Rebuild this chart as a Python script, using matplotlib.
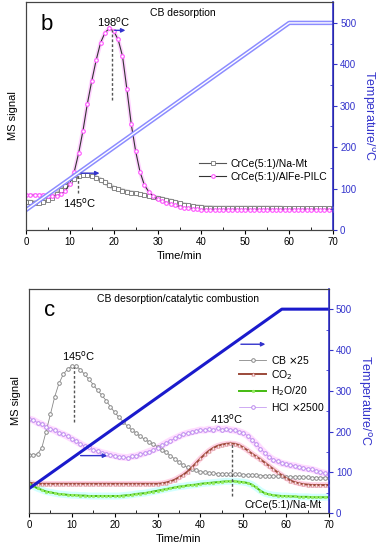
import matplotlib
matplotlib.use("Agg")
import matplotlib.pyplot as plt
import numpy as np
from matplotlib.ticker import MultipleLocator, NullFormatter

plt.rcParams["font.family"] = ["Liberation Sans", "DejaVu Sans"]
plt.rcParams["font.size"] = 7.5

BLUE = "#3333cc"

# ---- data (MS signal in arbitrary units) ----
time_min = np.arange(0, 71)

# panel b
na_mt_b = [68, 67, 66, 66, 68, 72, 78, 86, 96, 107, 116, 124, 130, 132, 132, 130, 126, 121,
           115, 108, 101, 98, 95, 92, 90, 88, 86, 84, 81, 79, 77, 75, 72, 70, 67, 64, 61, 59,
           57, 56, 55, 54, 54, 53, 53, 53, 53, 53, 53, 53, 53, 53, 53, 53, 53, 53, 53, 53,
           53, 52, 52, 52, 52, 52, 52, 52, 52, 52, 52, 52, 52]
alfe_pilc_b = [84, 84, 84, 84, 84, 83, 82, 83, 86, 95, 112, 140, 185, 240, 305, 360, 410,
               452, 476, 487, 480, 460, 420, 340, 255, 190, 140, 108, 92, 82, 74, 70, 66, 62,
               59, 56, 54, 52, 51, 50, 49, 49, 49, 49, 49, 49, 49, 49, 49, 49, 49, 49, 49, 49,
               49, 49, 49, 49, 49, 49, 49, 49, 49, 49, 49, 49, 49, 49, 49, 49, 49]
temp_t_b = [0, 60, 70]
temp_b = [48, 500, 500]

# panel c
cb_c = [143, 143, 145, 160, 200, 242, 285, 318, 340, 353, 360, 360, 352, 340, 328, 315, 301,
        289, 276, 261, 247, 235, 224, 213, 204, 196, 188, 181, 175, 169, 163, 156, 149, 141,
        133, 125, 117, 112, 108, 105, 102, 100, 99, 98, 97, 97, 96, 96, 95, 95, 94, 94, 93,
        93, 92, 92, 91, 91, 90, 90, 89, 89, 89, 88, 88, 88, 87, 87, 87, 87, 87]
co2_c = [75, 73, 72, 72, 72, 72, 72, 72, 72, 72, 72, 72, 72, 72, 72, 72, 72, 72, 72, 72, 72,
         72, 72, 72, 72, 72, 72, 72, 72, 72, 72, 73, 75, 78, 82, 88, 94, 102, 112, 123, 134,
         144, 153, 160, 165, 168, 170, 171, 170, 167, 161, 154, 146, 139, 132, 124, 116, 108,
         100, 93, 86, 80, 76, 73, 71, 70, 69, 69, 69, 69, 69]
h2o_c = [72, 66, 61, 57, 53, 51, 49, 47, 46, 45, 44, 44, 43, 43, 42, 42, 42, 42, 42, 42, 42,
         42, 43, 44, 45, 47, 48, 49, 51, 53, 55, 57, 59, 61, 63, 65, 66, 68, 69, 70, 72, 73,
         74, 75, 76, 77, 78, 78, 78, 77, 76, 74, 70, 63, 55, 49, 46, 44, 43, 42, 42, 41, 41,
         40, 40, 40, 39, 39, 39, 39, 39]
hcl_c = [231, 228, 222, 218, 212, 206, 203, 197, 193, 188, 182, 176, 170, 164, 161, 155, 152,
         148, 146, 143, 141, 138, 137, 136, 139, 140, 144, 147, 151, 155, 160, 166, 172, 178,
         183, 188, 193, 196, 199, 201, 204, 203, 206, 204, 208, 205, 207, 204, 203, 200, 196,
         190, 180, 170, 158, 148, 138, 131, 127, 122, 120, 117, 116, 113, 110, 109, 107, 104,
         100, 98, 95]
temp_t_c = [0, 59, 70]
temp_c = [60, 500, 500]


def style_axes(ax, ax2):
    ax.set_xlim(0, 70)
    ax.set_ylim(0, 550)
    ax2.set_ylim(0, 550)
    ax.set_yticks([])
    ax.xaxis.set_major_locator(MultipleLocator(10))
    ax.xaxis.set_minor_locator(MultipleLocator(5))
    ax.tick_params(axis="x", which="major", direction="out", length=3, labelsize=7, pad=2)
    ax.tick_params(axis="x", which="minor", direction="in", length=2)
    ax.set_xlabel("Time/min", labelpad=3, fontsize=8)
    ax.set_ylabel("MS signal", labelpad=6, fontsize=8)
    ax2.yaxis.set_major_locator(MultipleLocator(100))
    ax2.yaxis.set_minor_locator(MultipleLocator(50))
    ax2.yaxis.set_minor_formatter(NullFormatter())
    ax2.tick_params(axis="y", which="major", direction="out", length=3, colors=BLUE,
                    labelsize=7, pad=2)
    ax2.tick_params(axis="y", which="minor", direction="in", length=2, colors=BLUE)
    ax2.spines["right"].set_color(BLUE)
    ax2.spines["right"].set_linewidth(1.2)
    ax2.set_ylabel("Temperature/$^{\\rm o}$C", color=BLUE, rotation=270, va="bottom",
                   labelpad=3, fontsize=9)
    for a in (ax, ax2):
        for s in ("left", "top", "bottom"):
            a.spines[s].set_color("#444444")


def arrow(ax, x0, x1, y):
    ax.annotate("", xy=(x1, y), xytext=(x0, y),
                arrowprops=dict(arrowstyle="-|>", color=BLUE, lw=1, mutation_scale=6))


fig = plt.figure(figsize=(3.76, 5.5), dpi=100)

# ---------------- panel b ----------------
axb = fig.add_axes([0.069, 0.582, 0.817, 0.414])
axb2 = axb.twinx()
style_axes(axb, axb2)

axb2.plot(temp_t_b, temp_b, color="#8c8cff", lw=3.2, zorder=1)
axb2.plot(temp_t_b, temp_b, color="white", lw=1.0, zorder=1)

axb.plot(time_min, na_mt_b, color="#b0b0b0", lw=3.5, alpha=0.6, zorder=2)
axb.plot(time_min, na_mt_b, color="#555555", lw=0.8, marker="s", ms=2.6, mfc="white",
         mec="#777777", mew=0.6, label="CrCe(5:1)/Na-Mt", zorder=3)
axb.plot(time_min, alfe_pilc_b, color="#ffb3ff", lw=3, alpha=0.6, zorder=2)
axb.plot(time_min, alfe_pilc_b, color="#333333", lw=0.8, marker="o", ms=2.6, mfc="white",
         mec="#ff55ff", mew=0.8, label="CrCe(5:1)/AlFe-PILC", zorder=3)

axb2.plot([19.5, 19.5], [313, 483], color="#555555", lw=1, ls=(0, (2, 1.5)))
axb2.plot([11.8, 11.8], [88, 136], color="#555555", lw=1, ls=(0, (2, 1.5)))
arrow(axb2, 19.6, 23.3, 482)
arrow(axb2, 11.9, 17.4, 137)
axb2.text(19.9, 502, "198$^{\\rm o}$C", ha="center", va="center", fontsize=8)
axb2.text(12.3, 64, "145$^{\\rm o}$C", ha="center", va="center", fontsize=8)
axb2.text(4.8, 497, "b", ha="center", va="center", fontsize=16)
axb2.text(35.8, 523, "CB desorption", ha="center", va="center", fontsize=7.5)
axb.legend(loc="upper left", bbox_to_anchor=(0.55, 0.33), frameon=False, fontsize=7.5,
           handlelength=2.6, labelspacing=0.3, handletextpad=0.4, borderaxespad=0)

# ---------------- panel c ----------------
axc = fig.add_axes([0.077, 0.067, 0.798, 0.408])
axc2 = axc.twinx()
style_axes(axc, axc2)

axc2.plot(temp_t_c, temp_c, color="#1a1acc", lw=2.2, zorder=1)

axc.plot(time_min, hcl_c, color="#ffccff", lw=5, alpha=0.7, zorder=2)
axc.plot(time_min, co2_c, color="#ffc8e0", lw=4, alpha=0.8, zorder=2)
axc.plot(time_min, h2o_c, color="#c8ffff", lw=5, alpha=0.8, zorder=2)
axc.plot(time_min, cb_c, color="#888888", lw=0.6, marker="o", ms=2.6, mfc="white",
         mec="#888888", mew=0.7, label="CB $\\times$25", zorder=3)
axc.plot(time_min, co2_c, color="#9b4a3a", lw=1.4, marker="^", ms=2.3, mfc="white",
         mec="#d08080", mew=0.5, label="CO$_2$", zorder=3)
axc.plot(time_min, h2o_c, color="#44bb11", lw=1.4, marker="o", ms=1.8, mfc="#99ee66",
         mec="#99ee66", mew=0.5, label="H$_2$O/20", zorder=3)
axc.plot(time_min, hcl_c, color="#bb88ee", lw=0.5, marker="o", ms=2.6, mfc="white",
         mec="#bb88ee", mew=0.7, label="HCl $\\times$2500", zorder=3)

axc2.plot([10.5, 10.5], [223, 357], color="#555555", lw=1, ls=(0, (2, 1.5)))
axc2.plot([47.3, 47.3], [43, 170], color="#555555", lw=1, ls=(0, (2, 1.5)))
arrow(axc2, 11.4, 18.9, 141)
arrow(axc2, 48.8, 55.8, 414)
axc2.text(11.5, 386, "145$^{\\rm o}$C", ha="center", va="center", fontsize=8)
axc2.text(46.1, 231, "413$^{\\rm o}$C", ha="center", va="center", fontsize=8)
axc2.text(4.9, 496, "c", ha="center", va="center", fontsize=16)
axc2.text(34.8, 525, "CB desorption/catalytic combustion", ha="center", va="center",
          fontsize=7.5)
axc2.text(59.3, 19, "CrCe(5:1)/Na-Mt", ha="center", va="center", fontsize=7.5)
axc.legend(loc="upper left", bbox_to_anchor=(0.687, 0.73), frameon=False, fontsize=7.5,
           handlelength=2.6, labelspacing=0.25, handletextpad=0.4, borderaxespad=0)

fig.savefig("out.png", dpi=100)
